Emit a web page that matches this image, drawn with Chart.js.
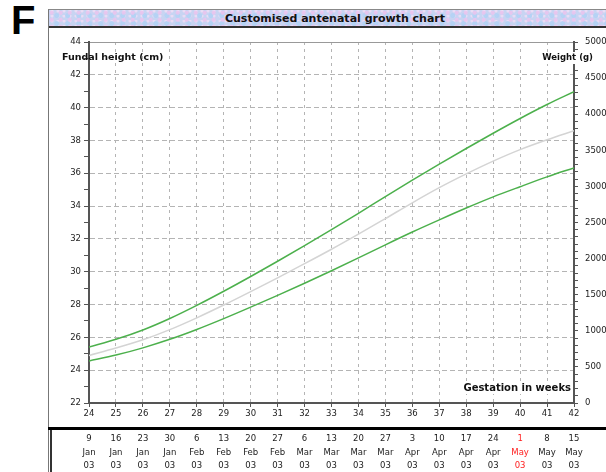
<!DOCTYPE html>
<html>
<head>
<meta charset="utf-8">
<script src="https://cdn.jsdelivr.net/npm/chart.js@4.4.1/dist/chart.umd.min.js"></script>
<style>
  html, body { margin: 0; padding: 0; background: #fff; }
  #wrap { position: relative; width: 606px; height: 472px; overflow: hidden; font-family: "DejaVu Sans", sans-serif; }
  #panelLetter { position: absolute; left: 11px; top: -2px; font: bold 40px "Liberation Sans", Arial, sans-serif; color: #000; }
  #frame { position: absolute; left: 48px; top: 9px; width: 600px; height: 470px; border-left: 1px solid #777; border-top: 1px solid #888; }
  #titleBar {
    position: absolute; left: 49px; top: 10px; width: 572px; height: 16px;
    border-bottom: 2px solid #333;
    background-color: #c8d4f2;
    background-image:
      radial-gradient(circle at 30% 40%, rgba(235,195,238,.85) 0 1.5px, transparent 2.5px),
      radial-gradient(circle at 70% 70%, rgba(180,210,245,.95) 0 2px, transparent 3px),
      radial-gradient(circle at 50% 20%, rgba(242,222,246,.8) 0 1px, transparent 2px);
    background-size: 9px 7px, 11px 8px, 6px 5px;
    font: bold 11px "DejaVu Sans", sans-serif; text-align: center; line-height: 17px; color: #111;
  }
  canvas { position: absolute; left: 0; top: 0; }
</style>
</head>
<body>
<div id="wrap">
  <div id="panelLetter">F</div>
  <div id="frame"></div>
  <div id="titleBar">Customised antenatal growth chart</div>
  <canvas id="growthChart" width="606" height="472"></canvas>
</div>
<script>
// Semanas de gestación y curvas (cm)
const weeks = [24, 25, 26, 27, 28, 29, 30, 31, 32, 33, 34, 35, 36, 37, 38, 39, 40, 41, 42];
const upperCurve = [25.41, 25.88, 26.45, 27.15, 27.95, 28.81, 29.71, 30.64, 31.59, 32.56, 33.56, 34.58, 35.58, 36.56, 37.51, 38.44, 39.34, 40.19, 40.97];
const medianCurve = [24.9, 25.35, 25.85, 26.47, 27.19, 27.97, 28.79, 29.63, 30.49, 31.37, 32.29, 33.24, 34.2, 35.12, 35.96, 36.74, 37.44, 38.04, 38.59];
const lowerCurve = [24.56, 24.92, 25.36, 25.88, 26.48, 27.14, 27.84, 28.56, 29.3, 30.06, 30.84, 31.64, 32.42, 33.16, 33.88, 34.56, 35.18, 35.78, 36.33];

// Fechas bajo cada semana
const dateDays = ['9', '16', '23', '30', '6', '13', '20', '27', '6', '13', '20', '27', '3', '10', '17', '24', '1', '8', '15'];
const dateMonths = ['Jan', 'Jan', 'Jan', 'Jan', 'Feb', 'Feb', 'Feb', 'Feb', 'Mar', 'Mar', 'Mar', 'Mar', 'Apr', 'Apr', 'Apr', 'Apr', 'May', 'May', 'May'];
const dateYears = ['03', '03', '03', '03', '03', '03', '03', '03', '03', '03', '03', '03', '03', '03', '03', '03', '03', '03', '03'];
const dueWeek = 40;

const tickFont = { family: '"DejaVu Sans", sans-serif', size: 8.5 };

function toPoints(values) {
    return weeks.map((w, i) => ({ x: w, y: values[i] }));
}

function labelWithBg(ctx, text, x, y, size) {
    ctx.font = 'bold ' + size + 'px "DejaVu Sans", sans-serif';
    const w = ctx.measureText(text).width;
    ctx.fillStyle = '#fff';
    ctx.fillRect(x - w - 2, y - 6, w + 3, 12);
    ctx.fillStyle = '#111';
    ctx.fillText(text, x, y);
}

// Títulos de ejes y tabla de fechas
const extrasPlugin = {
    id: 'extras',
    afterDraw(chart) {
        const ctx = chart.ctx;
        const xs = chart.scales.x;
        ctx.save();
        ctx.fillStyle = '#111';
        ctx.textBaseline = 'middle';

        ctx.textAlign = 'left';
        ctx.font = 'bold 9.5px "DejaVu Sans", sans-serif';
        ctx.fillText('Fundal height (cm)', 62, 58);

        ctx.textAlign = 'right';
        labelWithBg(ctx, 'Weight (g)', 593, 58, 8.5);
        labelWithBg(ctx, 'Gestation in weeks', 571, 388, 10);

        // separador grueso
        ctx.fillStyle = '#000';
        ctx.fillRect(48, 427, 560, 3);
        ctx.fillStyle = '#333';
        ctx.fillRect(50, 430, 2, 42);

        ctx.font = '8.5px "DejaVu Sans", sans-serif';
        ctx.textAlign = 'center';
        weeks.forEach((w, i) => {
            const x = xs.getPixelForValue(w);
            ctx.fillStyle = w === dueWeek ? '#ff2020' : '#222';
            ctx.fillText(dateDays[i], x, 439);
            ctx.fillText(dateMonths[i], x, 453);
            ctx.fillText(dateYears[i], x, 466);
        });
        ctx.restore();
    }
};

const ctx = document.getElementById('growthChart').getContext('2d');
const growthChart = new Chart(ctx, {
    type: 'line',
    data: {
        datasets: [
            { data: toPoints(upperCurve), borderColor: '#4cb04c', borderWidth: 1.5 },
            { data: toPoints(medianCurve), borderColor: '#d4d4d4', borderWidth: 1.5 },
            { data: toPoints(lowerCurve), borderColor: '#4cb04c', borderWidth: 1.5 }
        ]
    },
    options: {
        responsive: false,
        animation: false,
        elements: { point: { radius: 0 }, line: { cubicInterpolationMode: 'monotone' } },
        layout: { padding: { left: 49, right: 0, top: 42, bottom: 47 } },
        plugins: { legend: { display: false }, tooltip: { enabled: false }, title: { display: false } },
        scales: {
            x: {
                type: 'linear', position: 'bottom', min: 24, max: 42,
                afterFit: s => { s.height = 22; },
                ticks: { stepSize: 1, autoSkip: false, maxRotation: 0, color: '#222', font: tickFont, padding: 2 },
                grid: { color: '#b4b4b4', lineWidth: 1, tickLength: 4, tickColor: '#555' },
                border: { display: true, color: '#555', width: 2, dash: [3, 4] }
            },
            y: {
                position: 'left', min: 22, max: 44,
                afterFit: s => { s.width = 40; },
                ticks: {
                    stepSize: 1, autoSkip: false, color: '#222', font: tickFont, padding: 3,
                    callback: v => (v % 2 === 0 ? v : '')
                },
                grid: {
                    color: c => (c.tick && c.tick.value % 2 === 0 ? (c.tick.value === 44 ? '#999' : '#b4b4b4') : 'transparent'),
                    lineWidth: 1, tickLength: 5, tickColor: '#555'
                },
                border: { display: true, color: '#555', width: 2, dash: c => (c.tick && c.tick.value === 44 ? [] : [5, 3]) }
            },
            y2: {
                position: 'right', min: 0, max: 5000,
                afterFit: s => { s.width = 32; },
                ticks: {
                    stepSize: 100, autoSkip: false, color: '#222', font: tickFont, padding: 7,
                    callback: v => (v % 500 === 0 ? v : '')
                },
                grid: { drawOnChartArea: false, tickLength: 4, tickColor: '#555' },
                border: { display: true, color: '#555', width: 2 }
            }
        }
    },
    plugins: [extrasPlugin]
});
</script>
</body>
</html>
